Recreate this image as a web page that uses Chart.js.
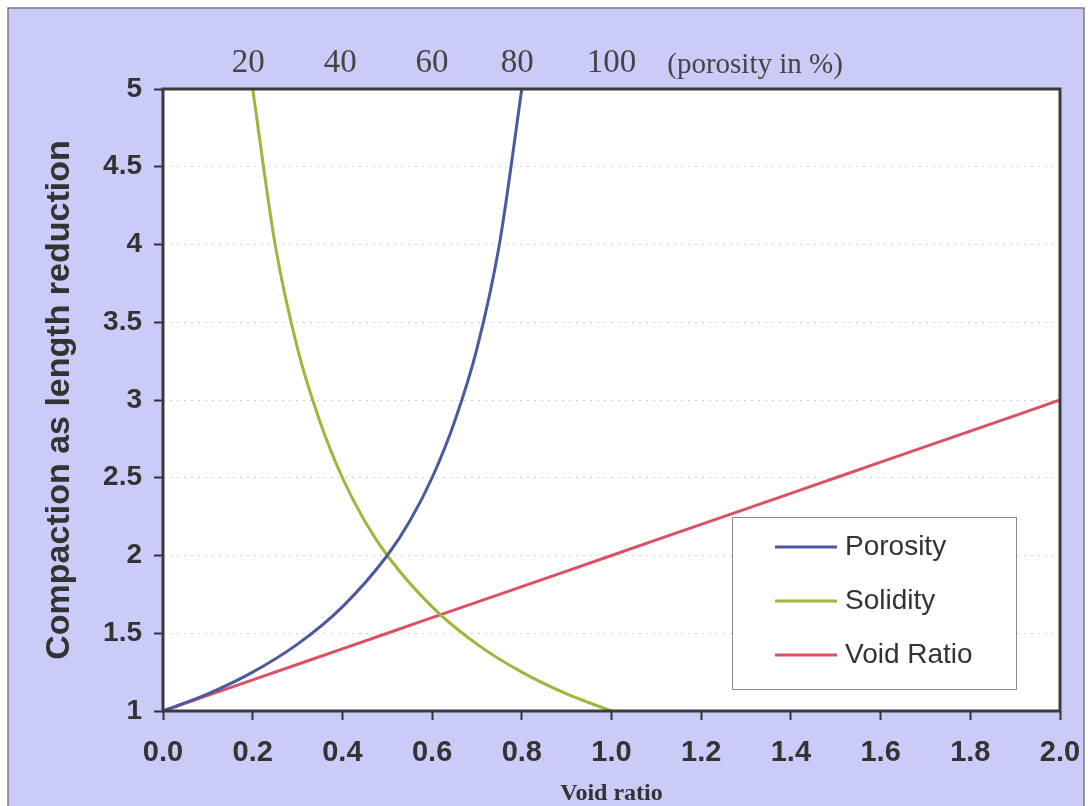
<!DOCTYPE html>
<html>
<head>
<meta charset="utf-8">
<title>Compaction vs void ratio</title>
<script src="https://cdn.jsdelivr.net/npm/chart.js@4"></script>
<style>
  html,body{margin:0;padding:0;background:#fff;}
  #wrap{width:1088px;height:806px;position:relative;}
</style>
</head>
<body>
<div id="wrap"><canvas id="chart"></canvas></div>
<script>
// series
const porosityX = [0, 0.1, 0.2, 0.3, 0.4, 0.5, 0.55, 0.6, 0.65, 0.7, 0.75, 0.8];
const porosityY = [1, 1.11, 1.25, 1.43, 1.67, 2.0, 2.22, 2.5, 2.86, 3.33, 4.0, 5.0];
const solidityX = [0.2, 0.25, 0.3, 0.35, 0.4, 0.45, 0.5, 0.6, 0.7, 0.8, 0.9, 1.0];
const solidityY = [5.0, 4.0, 3.33, 2.86, 2.5, 2.22, 2.0, 1.67, 1.43, 1.25, 1.11, 1.0];
const voidX = [0, 0.2, 0.4, 0.6, 0.8, 1.0, 1.2, 1.4, 1.6, 1.8, 2.0];
const voidY = [1, 1.2, 1.4, 1.6, 1.8, 2.0, 2.2, 2.4, 2.6, 2.8, 3.0];

// top axis: porosity in %, placed on the void-ratio scale
const topTickValues = [0.19, 0.395, 0.6, 0.79, 1.0, 1.32];
const topTickLabels = ["20", "40", "60", "80", "100", "(porosity in %)"];

const seriesNames = ["Porosity", "Solidity", "Void Ratio"];
const seriesColors = ["#4a5a9e", "#9ab83c", "#dc5064"];

const pts = (xs, ys) => xs.map((x, i) => ({x, y: ys[i]}));

const SANS = "Arial, 'Liberation Sans', sans-serif";
const SERIF = "'Times New Roman', 'Liberation Serif', serif";

// page background, plot background, plot frame, outer frame
const framePlugin = {
  id: "frame",
  beforeDraw(chart){
    const {ctx, chartArea:a, width, height} = chart;
    ctx.save();
    ctx.fillStyle = "#fff";
    ctx.fillRect(0, 0, width, height);
    ctx.fillStyle = "#cbcbf7";
    ctx.fillRect(8, 8, width - 12, height - 8);
    ctx.strokeStyle = "#7a7a84";
    ctx.lineWidth = 1.5;
    ctx.strokeRect(8, 8, width - 12, height);
    ctx.fillStyle = "#fff";
    ctx.fillRect(a.left, a.top, a.right - a.left, a.bottom - a.top);
    ctx.restore();
  },
  afterDatasetsDraw(chart){
    const {ctx, chartArea:a} = chart;
    ctx.save();
    ctx.strokeStyle = "#3a3a3a";
    ctx.lineWidth = 3;
    ctx.strokeRect(a.left, a.top, a.right - a.left, a.bottom - a.top);
    ctx.restore();
  }
};

// boxed legend inside the plot, lower right
const legendBox = {
  id: "legendBox",
  afterDraw(chart){
    const {ctx, chartArea:a} = chart;
    const x = a.right - 328, y = a.bottom - 194, w = 284, h = 172;
    ctx.save();
    ctx.fillStyle = "#fff";
    ctx.fillRect(x, y, w, h);
    ctx.strokeStyle = "#8a8a8a";
    ctx.lineWidth = 1;
    ctx.strokeRect(x + 0.5, y + 0.5, w, h);
    ctx.font = "28px " + SANS;
    ctx.textBaseline = "middle";
    chart.data.datasets.forEach((ds, i) => {
      const ly = y + 30 + i * 54;
      ctx.strokeStyle = ds.borderColor;
      ctx.lineWidth = 3;
      ctx.beginPath(); ctx.moveTo(x + 43, ly); ctx.lineTo(x + 105, ly); ctx.stroke();
      ctx.fillStyle = "#333";
      ctx.fillText(ds.label, x + 113, ly);
    });
    ctx.restore();
  }
};

new Chart(document.getElementById("chart"), {
  type: "scatter",
  data: {
    datasets: [
      {label: seriesNames[0], data: pts(porosityX, porosityY)},
      {label: seriesNames[1], data: pts(solidityX, solidityY)},
      {label: seriesNames[2], data: pts(voidX, voidY)}
    ].map((d, i) => ({...d, showLine: true, borderColor: seriesColors[i], backgroundColor: seriesColors[i],
      borderWidth: 3, pointRadius: 0, cubicInterpolationMode: "monotone"}))
  },
  options: {
    responsive: true,
    maintainAspectRatio: false,
    devicePixelRatio: 1,
    animation: false,
    layout: {padding: {left: 0, right: 28, top: 0, bottom: 0}},
    plugins: {legend: {display: false}, tooltip: {enabled: false}},
    scales: {
      x: {
        type: "linear", position: "bottom", min: 0, max: 2,
        afterFit: s => { s.height = 95; s.paddingLeft = 0; s.paddingRight = 0; },
        ticks: {stepSize: 0.2, color: "#333", padding: 16, maxRotation: 0,
          font: {family: SANS, size: 29, weight: "bold"},
          callback: v => v.toFixed(1)},
        grid: {drawOnChartArea: false, drawTicks: true, tickLength: 9, tickColor: "#333", tickWidth: 2},
        border: {display: false},
        title: {display: true, text: "Void ratio", color: "#333",
          font: {family: SERIF, size: 24, weight: "bold", lineHeight: 1}, padding: {top: 0, bottom: 0}}
      },
      x2: {
        type: "linear", position: "top", min: 0, max: 2,
        afterFit: s => { s.height = 89; s.paddingLeft = 0; s.paddingRight = 0; },
        afterBuildTicks: s => { s.ticks = topTickValues.map(v => ({value: v})); },
        ticks: {color: "#444", padding: 6, autoSkip: false, maxRotation: 0,
          font: c => c.index === topTickLabels.length - 1
            ? {family: SERIF, size: 29} : {family: SERIF, size: 33},
          callback: (v, i) => topTickLabels[i]},
        grid: {display: false, drawTicks: false},
        border: {display: false}
      },
      y: {
        type: "linear", min: 1, max: 5,
        afterFit: s => { s.width = 163; },
        ticks: {stepSize: 0.5, color: "#333", padding: 12,
          font: {family: SANS, size: 28, weight: "bold"},
          callback: v => String(v)},
        grid: {color: "#d0d0d0", lineWidth: 1, tickLength: 9, tickColor: "#333", tickWidth: 2},
        border: {display: false, dash: [2, 5]},
        title: {display: true, text: "Compaction as length reduction", color: "#333",
          font: {family: SANS, size: 34, weight: "bold", lineHeight: 1.2}, padding: {top: 39, bottom: 0}}
      }
    }
  },
  plugins: [framePlugin, legendBox]
});
</script>
</body>
</html>
